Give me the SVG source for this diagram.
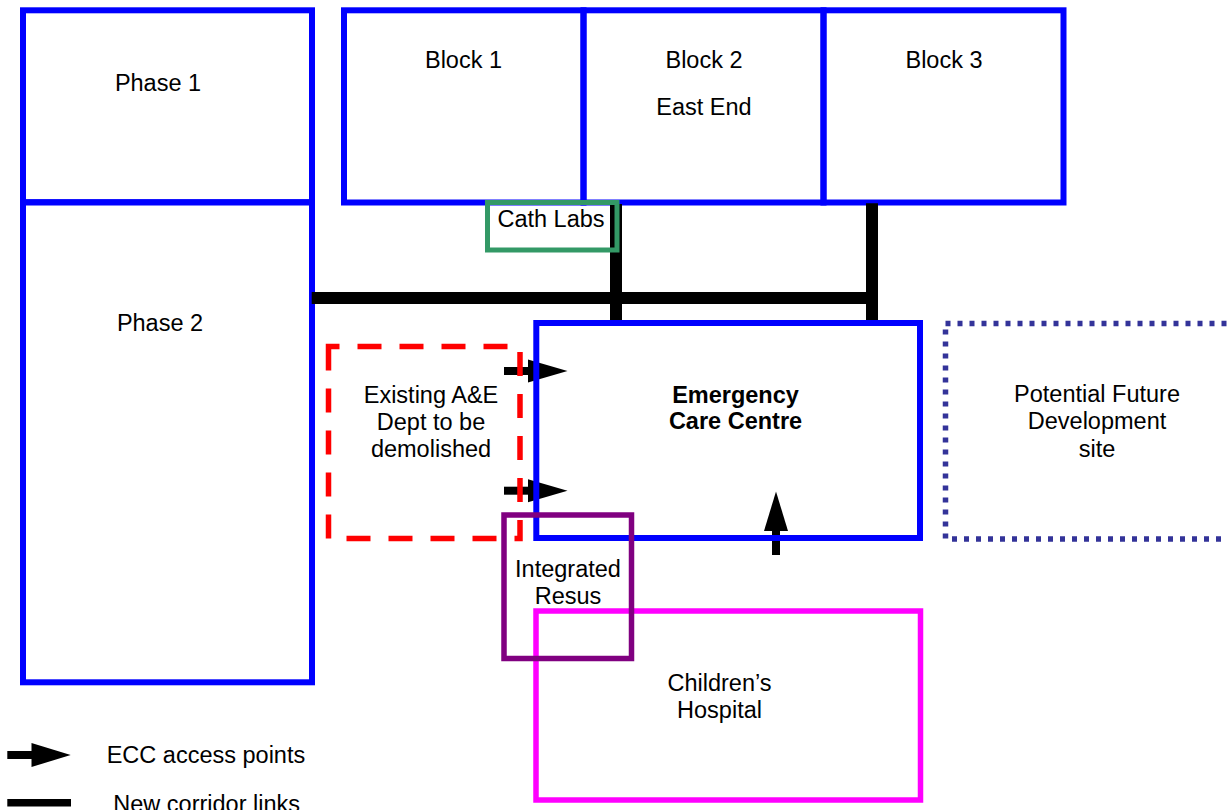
<svg xmlns="http://www.w3.org/2000/svg" width="1227" height="810" viewBox="0 0 1227 810">
<style>
  text { font-family: "Liberation Sans", Arial, sans-serif; font-size: 23.5px; fill: #000; }
  .c { text-anchor: middle; }
  .b { font-weight: bold; }
  .blue { fill: none; stroke: #0000ff; stroke-width: 6; }
  .red { fill: none; stroke: #ff0000; stroke-width: 5.5; stroke-dasharray: 24 18; }
  .dot { fill: none; stroke: #333399; stroke-width: 5.5; stroke-dasharray: 5 7; }
  .green { fill: none; stroke: #339966; stroke-width: 5; }
  .purple { fill: none; stroke: #800080; stroke-width: 5.5; }
  .mag { fill: none; stroke: #ff00ff; stroke-width: 5.5; }
  .corr { stroke: #000; stroke-width: 12; fill: none; }
  .shaft { stroke: #000; stroke-width: 8; fill: none; }
  .head { fill: #000; stroke: none; }
</style>
<rect width="1227" height="810" fill="#fff"/>

<g id="phase1">
  <rect class="blue" x="23" y="10.3" width="289" height="192"/>
  <text class="c" x="158" y="90.7">Phase 1</text>
</g>
<g id="phase2">
  <rect class="blue" x="23" y="202.3" width="289" height="480"/>
  <text class="c" x="160" y="331">Phase 2</text>
</g>
<g id="block1">
  <rect class="blue" x="344" y="10.3" width="239.5" height="192.2"/>
  <text class="c" x="463.5" y="67.7">Block 1</text>
</g>
<g id="block2">
  <rect class="blue" x="583.5" y="10.3" width="240" height="192.2"/>
  <text class="c" x="704" y="67.7">Block 2</text>
  <text class="c" x="704" y="115">East End</text>
</g>
<g id="block3">
  <rect class="blue" x="823.5" y="10.3" width="240" height="192.2"/>
  <text class="c" x="944" y="67.7">Block 3</text>
</g>

<g id="connectors">
  <line class="corr" x1="311.7" y1="298" x2="877.7" y2="298"/>
  <line class="corr" x1="616" y1="204" x2="616" y2="322.7"/>
  <line class="corr" x1="872" y1="203.3" x2="872" y2="322.7"/>
  <line class="shaft" x1="504" y1="371" x2="530" y2="371"/>
  <polygon class="head" points="528,359.5 567.5,371 528,382.5"/>
  <line class="shaft" x1="504" y1="490.7" x2="530" y2="490.7"/>
  <polygon class="head" points="528,479.2 567.5,490.7 528,502.2"/>
  <line class="shaft" x1="776" y1="555" x2="776" y2="529"/>
  <polygon class="head" points="764,531 776,491.5 788,531"/>
</g>

<g id="cathlabs">
  <rect class="green" x="487.5" y="202.5" width="129.5" height="47.5"/>
  <text class="c" x="551" y="226.7">Cath Labs</text>
</g>

<g id="existing-ae">
  <path class="red" d="M328.5,346.5 V538.5 H520 V346.5 Z"/>
  <text class="c" x="431" y="403.3">Existing A&amp;E</text>
  <text class="c" x="431" y="430">Dept to be</text>
  <text class="c" x="431" y="456.7">demolished</text>
</g>

<g id="ecc">
  <rect class="blue" x="536.3" y="323" width="383.7" height="215"/>
  <text class="c b" x="735.5" y="402.7">Emergency</text>
  <text class="c b" x="735.5" y="429.3">Care Centre</text>
</g>

<g id="future">
  <rect class="dot" x="945.5" y="323.5" width="300" height="215.5"/>
  <text class="c" x="1097" y="401.7">Potential Future</text>
  <text class="c" x="1097" y="429.3">Development</text>
  <text class="c" x="1097" y="456.7">site</text>
</g>

<g id="childrens">
  <rect class="mag" x="536" y="611" width="384.5" height="189"/>
  <text class="c" x="719.5" y="690.7">Children’s</text>
  <text class="c" x="719.5" y="717.7">Hospital</text>
</g>

<g id="resus">
  <rect class="purple" x="504" y="515" width="127.5" height="143.5"/>
  <text class="c" x="568" y="576.7">Integrated</text>
  <text class="c" x="568" y="604.3">Resus</text>
</g>

<g id="legend">
  <line class="shaft" x1="7.3" y1="755" x2="33" y2="755"/>
  <polygon class="head" points="31.5,743 70.7,755 31.5,767"/>
  <text x="106.7" y="762.7">ECC access points</text>
  <line x1="7.3" y1="802.7" x2="71" y2="802.7" stroke="#000" stroke-width="7.5"/>
  <text x="113.3" y="812">New corridor links</text>
</g>
</svg>
